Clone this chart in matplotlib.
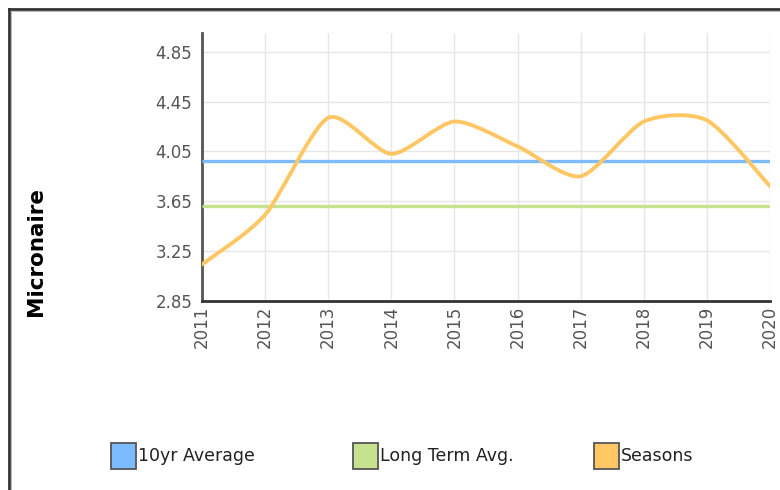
import matplotlib
matplotlib.use("Agg")
import matplotlib.pyplot as plt
import matplotlib.patches as patches
from matplotlib.path import Path
from matplotlib.lines import Line2D
import numpy as np

# data
years = [2011, 2012, 2013, 2014, 2015, 2016, 2017, 2018, 2019, 2020]
seasons = [3.14, 3.54, 4.32, 4.03, 4.29, 4.09, 3.85, 4.29, 4.30, 3.77]
ten_yr_avg = 3.97
long_term_avg = 3.61
y_ticks = [2.85, 3.25, 3.65, 4.05, 4.45, 4.85]

legend_labels = ['10yr Average', 'Long Term Avg.', 'Seasons']
colors = {
    'blue': '#7DBBFF',
    'green': '#C6E28E',
    'orange': '#FFC764',
}
legend_colors = [colors['blue'], colors['green'], colors['orange']]

W, H = 780, 490


def smooth_path(xs, ys, s=0.75):
    """Cardinal-style spline through the points as cubic bezier segments"""
    xs = np.asarray(xs, float)
    ys = np.asarray(ys, float)
    n = len(xs)
    verts = [(xs[0], ys[0])]
    codes = [Path.MOVETO]
    for i in range(n - 1):
        i0 = max(i - 1, 0)
        i3 = min(i + 2, n - 1)
        d1x = (xs[i + 1] - xs[i0]) / 6 * s
        d1y = (ys[i + 1] - ys[i0]) / 6 * s
        d2x = (xs[i3] - xs[i]) / 6 * s
        d2y = (ys[i3] - ys[i]) / 6 * s
        verts += [(xs[i] + d1x, ys[i] + d1y),
                  (xs[i + 1] - d2x, ys[i + 1] - d2y),
                  (xs[i + 1], ys[i + 1])]
        codes += [Path.CURVE4] * 3
    return Path(verts, codes)


fig = plt.figure(figsize=(W / 100, H / 100), dpi=100)
ax = fig.add_axes([202 / W, 1 - 300.5 / H, (770 - 202) / W, (300.5 - 33.3) / H])

# reference lines
ax.plot(years, [ten_yr_avg] * len(years), color=colors['blue'], lw=2.4,
        solid_capstyle='butt', zorder=3)
ax.plot(years, [long_term_avg] * len(years), color=colors['green'], lw=2.4,
        solid_capstyle='butt', zorder=3)

# seasons spline
curve = patches.PathPatch(smooth_path(years, seasons), fill=False,
                          edgecolor=colors['orange'], lw=2.8, zorder=4,
                          capstyle='round', joinstyle='round')
ax.add_patch(curve)

ax.set_xlim(years[0], years[-1])
ax.set_ylim(2.85, 5.0)
ax.set_xticks(years)
ax.set_xticklabels([str(y) for y in years], rotation=90, va='top', ha='center')
ax.set_yticks(y_ticks)
ax.set_yticklabels([f'{v:.2f}' for v in y_ticks])
ax.tick_params(axis='both', length=0, labelsize=12, labelcolor='#555555')
ax.tick_params(axis='y', pad=7)
ax.tick_params(axis='x', pad=4)
ax.grid(True, color='#e6e6e6', lw=1)
ax.set_axisbelow(True)

for side in ['top', 'right']:
    ax.spines[side].set_visible(False)
ax.spines['left'].set_color('#555555')
ax.spines['left'].set_linewidth(2)
ax.spines['bottom'].set_color('#333333')
ax.spines['bottom'].set_linewidth(2)

fig.text(36 / W, 1 - 252 / H, 'Micronaire', rotation=90, ha='center', va='center',
         fontsize=15.5, fontweight='bold', color='black')

# legend drawn by hand: fixed column spacing like the original
box_w, box_h = 25, 26
for i, (label, col) in enumerate(zip(legend_labels, legend_colors)):
    x0 = 111 + i * 241.5
    y0 = 442.5
    rect = patches.Rectangle((x0 / W, 1 - (y0 + box_h) / H), box_w / W, box_h / H,
                             transform=fig.transFigure, facecolor=col,
                             edgecolor='#555555', lw=1.3)
    fig.add_artist(rect)
    fig.text((x0 + box_w + 2) / W, 1 - (y0 + box_h / 2) / H, label,
             ha='left', va='center', fontsize=12.5, color='#222222')

# outer frame (top and left edges visible)
fig.add_artist(Line2D([8.5 / W, 8.5 / W], [0, 1 - 9 / H], transform=fig.transFigure,
                      color='#333333', lw=2))
fig.add_artist(Line2D([8.5 / W, 1], [1 - 9 / H, 1 - 9 / H], transform=fig.transFigure,
                      color='#333333', lw=2))
fig.add_artist(Line2D([11 / W, 11 / W], [0, 1 - 11.5 / H], transform=fig.transFigure,
                      color='#bbbbbb', lw=0.8))
fig.add_artist(Line2D([11 / W, 1], [1 - 11.5 / H, 1 - 11.5 / H], transform=fig.transFigure,
                      color='#bbbbbb', lw=0.8))

fig.savefig('out.png', dpi=100)
